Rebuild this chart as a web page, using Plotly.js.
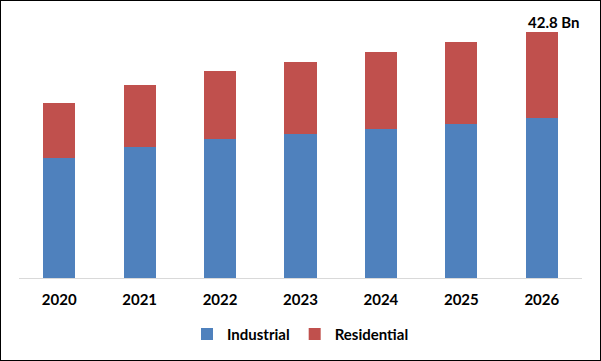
<!DOCTYPE html>
<html>
<head>
<meta charset="utf-8">
<script src="https://cdn.plot.ly/plotly-3.0.1.min.js"></script>
<style>
html,body{margin:0;padding:0;background:#fff;}
#chart{width:599px;height:359px;border:1px solid #000;}
</style>
</head>
<body>
<div id="chart"></div>
<script>
var years = ["2020","2021","2022","2023","2024","2025","2026"];
var industrial = [20.9, 22.8, 24.2, 25.1, 25.9, 26.8, 27.8];
var residential = [9.55, 10.8, 11.8, 12.5, 13.4, 14.3, 15.0];
var totalLabel = "42.8 Bn";
var totalValue = 42.8;

function mkFont() {
  return {family: "Lato, 'Open Sans', sans-serif", size: 15, color: "#000", weight: "bold"};
}

var data = [
  {type: "bar", name: "Industrial", x: years.slice(), y: industrial.slice(), marker: {color: "#4f81bd"}},
  {type: "bar", name: "Residential", x: years.slice(), y: residential.slice(), marker: {color: "#c0504d"}}
];

var layout = {
  width: 599, height: 359,
  margin: {l: 18, r: 18, t: 9, b: 82},
  barmode: "stack",
  bargap: 0.6,
  paper_bgcolor: "#fff",
  plot_bgcolor: "#fff",
  font: mkFont(),
  showlegend: true,
  legend: {orientation: "h", x: 0.5, xanchor: "center", y: -0.21, yanchor: "middle",
           font: mkFont(), traceorder: "normal"},
  xaxis: {type: "category", showline: true, linecolor: "#d9d9d9", linewidth: 1,
          ticks: "outside", ticklen: 8, tickcolor: "rgba(0,0,0,0)", tickfont: mkFont(),
          showgrid: false, zeroline: false},
  yaxis: {range: [0, 46.6], showticklabels: false, showgrid: false, zeroline: false, showline: false},
  annotations: [{x: 6, y: totalValue, xref: "x", yref: "y", text: totalLabel,
                 showarrow: false, yanchor: "bottom", xshift: 12, yshift: -1, font: mkFont()}]
};

Plotly.newPlot("chart", data, layout, {staticPlot: true, displayModeBar: false});
</script>
</body>
</html>
